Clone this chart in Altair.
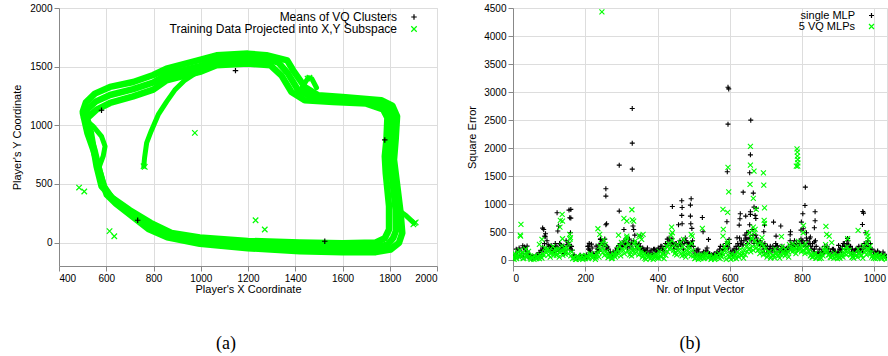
import altair as alt
import pandas as pd

GREEN = "#00ff00"
BLACK = "#000000"
PLUS = "M-1,0L1,0M0,-1L0,1"
CROSS = "M-1,-1L1,1M-1,1L1,-1"

# ---------------- Panel (a): player trajectory ----------------
outer_x = [501, 520, 545, 566, 585, 602, 641, 709, 778, 858, 996, 1199, 1419, 1600, 1741, 1803,
           1839, 1853, 1846, 1832, 1818, 1825, 1831, 1811, 1764, 1600, 1497, 1440, 1391, 1366,
           1278, 1199, 1067, 996, 855, 799, 714, 616, 552, 514, 501]
outer_y = [1105, 935, 793, 651, 509, 409, 332, 224, 116, 45, -11, -48, -74, -82, -82, -60,
           -3, 82, 253, 480, 707, 878, 1077, 1168, 1213, 1242, 1256, 1327, 1469, 1554,
           1597, 1611, 1597, 1557, 1483, 1429, 1369, 1327, 1270, 1196, 1119]
middle_x = [508, 527, 550, 570, 590, 620, 670, 740, 820, 880, 996, 1199, 1419, 1600, 1741, 1792,
            1815, 1826, 1825, 1812, 1800, 1805, 1810, 1792, 1735, 1600, 1470, 1412, 1368, 1330,
            1278, 1199, 1067, 996, 855, 799, 714, 616, 555, 522, 508]
middle_y = [1090, 935, 790, 620, 480, 390, 300, 200, 110, 60, 15, -18, -38, -45, -42, -15,
            40, 100, 280, 520, 720, 878, 1070, 1150, 1200, 1222, 1240, 1300, 1445, 1533,
            1565, 1570, 1555, 1505, 1433, 1365, 1308, 1258, 1202, 1140, 1090]
inner_x = [517, 535, 559, 580, 627, 700, 788, 876, 996, 1199, 1419, 1600, 1741, 1779, 1797, 1797,
           1783, 1779, 1786, 1790, 1772, 1701, 1560, 1440, 1384, 1342, 1295, 1199, 1067, 996,
           855, 799, 714, 616, 559, 528, 517]
inner_y = [1077, 935, 651, 480, 378, 276, 168, 82, 43, 14, 0, -6, 0, 37, 111, 310,
           594, 736, 878, 1063, 1134, 1185, 1199, 1213, 1284, 1423, 1511, 1526, 1511, 1455,
           1384, 1304, 1247, 1190, 1134, 1077, 1077]
detour_x = [503, 545, 580, 595, 587, 566]
detour_y = [1063, 990, 906, 821, 736, 622]
branch_x = [759, 762, 771, 790, 820, 855, 890, 930, 975, 1040, 1110, 1199]
branch_y = [651, 720, 850, 950, 1090, 1200, 1300, 1380, 1440, 1500, 1545, 1585]
spur_top_x = [1430, 1455, 1470, 1490]
spur_top_y = [1330, 1405, 1398, 1320]
spur_right_x = [1835, 1870, 1902]
spur_right_y = [280, 228, 168]

train_pts_x = [485, 507, 614, 634, 975, 1232, 1271, 758, 763, 1905, 1900, 1910, 1460, 1452]
train_pts_y = [469, 435, 97, 54, 935, 190, 111, 651, 645, 165, 155, 172, 1405, 1398]
means_x = [580, 1147, 1779, 1525, 733]
means_y = [1128, 1466, 875, 11, 190]

LBL_MEANS = "Means of VQ Clusters"
LBL_TRAIN = "Training Data Projected into  X,Y Subspace"


def path_df(name, xs, ys):
    return pd.DataFrame({"path": name, "seq": list(range(len(xs))), "x": xs, "y": ys})


laps = pd.concat([path_df("outer", outer_x, outer_y), path_df("middle", middle_x, middle_y),
                  path_df("inner", inner_x, inner_y)])
thin = pd.concat([path_df("detour", detour_x, detour_y), path_df("branch", branch_x, branch_y),
                  path_df("spur1", spur_top_x, spur_top_y), path_df("spur2", spur_right_x, spur_right_y)])
pts_a = pd.concat([
    pd.DataFrame({"x": train_pts_x, "y": train_pts_y, "series": LBL_TRAIN}),
    pd.DataFrame({"x": means_x, "y": means_y, "series": LBL_MEANS}),
])

xa = alt.X("x:Q", scale=alt.Scale(domain=[400, 2000], nice=False),
           axis=alt.Axis(values=list(range(400, 2001, 200)), format="d",
                         title="Player's X Coordinate", titleFontWeight="normal",
                         titleY=23, titleBaseline="middle"))
ya = alt.Y("y:Q", scale=alt.Scale(domain=[-200, 2000], nice=False),
           axis=alt.Axis(values=[0, 500, 1000, 1500, 2000], format="d",
                         title="Player's Y Coordinate", titleFontWeight="normal",
                         titleX=-42, titleBaseline="middle"))

leg_a = alt.Legend(title=None, orient="none", legendX=349, legendY=3,
                   labelAlign="right", labelOffset={"expr": "-23"}, labelFontSize=12,
                   labelLimit=500, rowPadding=-2, padding=0,
                   symbolStrokeWidth=1.2, symbolSize=30)

lap_layer = alt.Chart(laps).mark_line(color=GREEN, strokeWidth=6.5, strokeCap="round",
                                      strokeJoin="round").encode(
    x=xa, y=ya, detail="path:N", order="seq:Q")
thin_layer = alt.Chart(thin).mark_line(color=GREEN, strokeWidth=5, strokeCap="round",
                                       strokeJoin="round").encode(
    x=xa, y=ya, detail="path:N", order="seq:Q")
pts_layer_a = alt.Chart(pts_a).mark_point(filled=False, size=30, strokeWidth=1.2, opacity=1).encode(
    x=xa, y=ya,
    color=alt.Color("series:N", scale=alt.Scale(domain=[LBL_MEANS, LBL_TRAIN], range=[BLACK, GREEN]),
                    legend=leg_a),
    shape=alt.Shape("series:N", scale=alt.Scale(domain=[LBL_MEANS, LBL_TRAIN], range=[PLUS, CROSS]),
                    legend=leg_a),
)

panel_a = alt.layer(lap_layer, thin_layer, pts_layer_a).properties(
    width=378, height=258,
    title=alt.TitleParams("(a)", orient="bottom", font="Liberation Serif", fontSize=18,
                          fontWeight="normal", dx=-22, offset=41, anchor="middle"),
)

# ---------------- Panel (b): square error ----------------
green_base = [60, 120, 30, 90, 180, 140, 40, 200, 110, 70,
              20, 50, 80, 30, 60, 100, 40, 90, 150, 200,
              180, 120, 250, 160, 90, 200, 140, 260, 170, 110,
              220, 300, 80, 30, 50, 20, 70, 40, 90, 60,
              30, 80, 50, 120, 40, 90, 60, 150, 250, 300,
              200, 280, 120, 60, 100, 40, 80, 140, 200, 260,
              320, 180, 250, 400, 280, 150, 220, 300, 180, 260,
              200, 120, 80, 40, 100, 60, 30, 80, 50, 110,
              90, 160, 60, 120, 200, 250, 300, 220, 350, 180,
              150, 280, 200, 120, 240, 100, 180, 260, 140, 300,
              80, 40, 100, 60, 30, 90, 50, 120, 40, 70,
              30, 60, 40, 90, 120, 80, 150, 250, 200, 100,
              60, 120, 40, 90, 150, 60, 200, 120, 180, 250,
              300, 220, 400, 180, 350, 280, 200, 320, 160, 260,
              120, 80, 150, 60, 100, 200, 140, 80, 180, 250,
              120, 200, 150, 280, 220, 300, 180, 250, 340, 200,
              260, 180, 300, 220, 150, 100, 60, 120, 40, 90,
              60, 120, 200, 280, 160, 100, 50, 80, 130, 60,
              90, 40, 120, 200, 160, 240, 180, 100, 60, 130,
              100, 200, 140, 90, 260, 180, 300, 200, 120, 80,
              60, 110, 40, 90, 30, 70, 50]
green_base2 = [20, 80, 150, 50, 100, 30, 120, 60, 160, 40,
               50, 20, 40, 70, 30, 60, 120, 220, 180, 100,
               60, 150, 90, 200, 120, 60, 180, 90, 220, 150,
               120, 380, 150, 60, 20, 40, 30, 60, 20, 40,
               70, 30, 100, 60, 80, 20, 110, 60, 180, 140,
               90, 160, 50, 90, 30, 120, 60, 90, 150, 80,
               200, 120, 350, 160, 100, 80, 180, 120, 240, 100,
               150, 60, 120, 20, 60, 90, 50, 20, 80, 40,
               40, 80, 120, 30, 90, 150, 200, 450, 260, 120,
               100, 180, 320, 80, 150, 60, 120, 200, 80, 180,
               30, 80, 20, 90, 60, 30, 100, 60, 90, 20,
               60, 20, 80, 50, 30, 60, 100, 180, 300, 60,
               20, 60, 100, 30, 80, 120, 90, 40, 100, 160,
               200, 150, 250, 500, 220, 180, 120, 280, 100, 200,
               60, 150, 40, 90, 50, 120, 80, 40, 100, 160,
               80, 120, 60, 180, 150, 220, 120, 180, 240, 150,
               180, 120, 220, 160, 80, 60, 120, 40, 80, 30,
               40, 80, 150, 200, 100, 60, 90, 40, 70, 30,
               50, 80, 60, 120, 100, 180, 110, 60, 40, 80,
               60, 120, 90, 40, 150, 100, 200, 140, 60, 40,
               30, 70, 90, 50, 80, 40, 20]
black_base = [40, 100, 150, 220, 80, 260, 240, 120, 60, 90,
              30, 70, 50, 100, 140, 180, 240, 300, 200, 280,
              220, 260, 180, 300, 240, 160, 280, 200, 120, 350,
              280, 200, 250, 60, 40, 30, 60, 90, 50, 80,
              60, 250, 180, 290, 120, 60, 150, 200, 380, 350,
              300, 180, 240, 100, 60, 150, 120, 220, 260, 300,
              250, 350, 300, 220, 380, 320, 200, 450, 300, 280,
              250, 180, 200, 150, 220, 100, 180, 120, 200, 150,
              220, 180, 250, 200, 300, 380, 400, 260, 320, 200,
              300, 250, 350, 280, 200, 400, 320, 300, 250, 350,
              150, 100, 200, 80, 60, 150, 120, 220, 100, 80,
              60, 120, 80, 150, 200, 100, 250, 200, 300, 220,
              150, 100, 200, 250, 300, 400, 350, 280, 450, 380,
              500, 400, 550, 300, 450, 350, 300, 280, 250, 300,
              200, 150, 250, 180, 220, 300, 260, 150, 200, 180,
              150, 200, 250, 350, 200, 300, 250, 200, 300, 380,
              350, 300, 400, 250, 300, 200, 150, 350, 100, 120,
              80, 150, 250, 200, 150, 120, 100, 200, 150, 100,
              150, 200, 250, 300, 200, 350, 220, 150, 100, 180,
              200, 250, 180, 150, 300, 250, 350, 200, 150, 100,
              150, 100, 80, 120, 60, 100, 80]
black_base2 = [80, 200, 60, 180, 120, 60, 200, 160, 100, 50,
               60, 40, 90, 60, 100, 150, 200, 420, 350, 250,
               180, 220, 150, 250, 200, 300, 200, 250, 180, 280,
               320, 250, 180, 100, 60, 40, 80, 50, 60, 40,
               100, 200, 150, 220, 90, 120, 200, 160, 300, 260,
               380, 250, 200, 150, 80, 100, 180, 150, 200, 250,
               300, 280, 400, 320, 250, 300, 350, 280, 220, 300,
               200, 220, 150, 180, 120, 150, 100, 200, 120, 180,
               180, 250, 200, 150, 250, 300, 350, 300, 250, 300,
               250, 300, 280, 350, 300, 350, 250, 280, 300, 250,
               120, 180, 150, 100, 120, 100, 180, 150, 120, 100,
               100, 80, 150, 120, 250, 180, 200, 300, 250, 300,
               120, 180, 150, 200, 250, 300, 280, 350, 400, 300,
               400, 350, 450, 350, 400, 300, 350, 300, 200, 250,
               250, 200, 180, 250, 150, 250, 200, 180, 250, 220,
               200, 150, 200, 280, 250, 350, 300, 250, 350, 300,
               300, 250, 350, 300, 250, 300, 200, 250, 150, 200,
               150, 120, 200, 250, 200, 150, 200, 150, 100, 150,
               200, 150, 300, 250, 300, 280, 250, 200, 150, 200,
               150, 200, 250, 200, 250, 300, 250, 300, 200, 150,
               100, 150, 120, 80, 150, 100, 60]

black_peaks_x = [30, 39, 82, 85, 88, 90, 103, 122, 124, 126, 155, 160, 157, 160, 159, 210, 211, 230,
                 238, 242, 257, 257, 259, 257, 294, 294, 307, 330, 330, 330, 332, 334, 352, 441, 440,
                 467, 468, 467, 468, 458, 493, 491, 491, 492, 495, 524, 526, 541, 595, 597, 595, 593,
                 592, 598, 637, 620, 626, 629, 628, 644, 647, 658, 657, 655, 657, 657, 655, 665, 667,
                 673, 670, 672, 694, 696, 696, 721, 728, 741, 767, 768, 774, 797, 798, 802, 803, 809,
                 808, 812, 836, 836, 834, 834, 821, 823, 901, 926, 968, 970, 967, 976, 988, 1009]
black_peaks_y = [225, 255, 576, 552, 433, 475, 255, 849, 523, 612, 897, 909, 760, 754, 493, 255, 303,
                 255, 273, 374, 1277, 1146, 653, 635, 1698, 879, 552, 2708, 2090, 1627, 612, 552, 433,
                 962, 386, 1063, 944, 802, 653, 635, 1099, 986, 790, 653, 570, 766, 511, 374, 3088,
                 3058, 2429, 1580, 689, 374, 1217, 404, 629, 831, 742, 790, 493, 2500, 1882, 1562, 820,
                 867, 635, 1200, 950, 926, 802, 748, 511, 629, 137, 683, 433, 612, 457, 511, 255, 540,
                 683, 831, 564, 1306, 980, 493, 867, 707, 582, 327, 386, 416, 267, 392, 873, 843, 641,
                 493, 166, 166]
green_peaks_x = [246, 22, 20, 21, 73, 80, 130, 136, 137, 131, 137, 157, 159, 235, 240, 251, 292, 307,
                 315, 315, 329, 330, 334, 338, 349, 352, 360, 356, 439, 441, 472, 493, 496, 524, 581,
                 582, 581, 594, 595, 597, 594, 590, 657, 657, 656, 665, 667, 654, 673, 665, 670, 661,
                 693, 694, 696, 695, 696, 689, 743, 786, 787, 787, 788, 788, 788, 784, 804, 803, 866,
                 868, 875, 882, 926, 955, 979, 982, 983, 988]
green_peaks_y = [4430, 641, 451, 433, 285, 374, 594, 819, 701, 713, 386, 463, 404, 564, 463, 362, 451,
                 748, 701, 433, 903, 724, 701, 344, 445, 422, 463, 374, 594, 493, 374, 463, 433, 570,
                 909, 552, 433, 855, 1657, 1223, 333, 18, 2031, 1698, 1354, 1105, 1591, 493, 909, 594,
                 552, 386, 1562, 1342, 938, 713, 659, 404, 422, 1989, 1930, 1859, 1799, 1740, 1680,
                 1680, 624, 493, 606, 463, 433, 315, 386, 535, 493, 433, 374, 255]

LBL_SINGLE = "single MLP"
LBL_VQ = "5 VQ MLPs"

black_df = pd.concat([
    pd.DataFrame({"x": [2 + 5 * i for i in range(len(black_base))], "y": black_base}),
    pd.DataFrame({"x": [4 + 5 * i for i in range(len(black_base2))], "y": black_base2}),
    pd.DataFrame({"x": black_peaks_x, "y": black_peaks_y}),
])
black_df["series"] = LBL_SINGLE
green_df = pd.concat([
    pd.DataFrame({"x": [5 * i for i in range(len(green_base))], "y": green_base}),
    pd.DataFrame({"x": [3 + 5 * i for i in range(len(green_base2))], "y": green_base2}),
    pd.DataFrame({"x": green_peaks_x, "y": green_peaks_y}),
])
green_df["series"] = LBL_VQ
pts_b = pd.concat([black_df, green_df], ignore_index=True)

leg_b = alt.Legend(title=None, orient="none", legendX=353, legendY=2,
                   labelAlign="right", labelOffset={"expr": "-22"}, labelFontSize=11,
                   labelLimit=300, rowPadding=-3, padding=0,
                   symbolStrokeWidth=1.2, symbolSize=25)
panel_b = alt.Chart(pts_b).mark_point(filled=False, size=25, strokeWidth=1.1, opacity=1,
                                      clip=True).encode(
    x=alt.X("x:Q", scale=alt.Scale(domain=[0, 1035], nice=False),
            axis=alt.Axis(values=[0, 200, 400, 600, 800, 1000], format="d",
                          title="Nr. of Input Vector", titleFontWeight="normal",
                          titleY=23, titleBaseline="middle")),
    y=alt.Y("y:Q", scale=alt.Scale(domain=[-100, 4500], nice=False),
            axis=alt.Axis(values=list(range(0, 4501, 500)), format="d",
                          title="Square Error", titleFontWeight="normal",
                          titleX=-41, titleBaseline="middle")),
    color=alt.Color("series:N", scale=alt.Scale(domain=[LBL_SINGLE, LBL_VQ], range=[BLACK, GREEN]),
                    legend=leg_b),
    shape=alt.Shape("series:N", scale=alt.Scale(domain=[LBL_SINGLE, LBL_VQ], range=[PLUS, CROSS]),
                    legend=leg_b),
).properties(
    width=374, height=258,
    title=alt.TitleParams("(b)", orient="bottom", font="Liberation Serif", fontSize=18,
                          fontWeight="normal", dx=-10, offset=41, anchor="middle"),
)

# Fixed canvas: the padding alone spans 888 x 356, the panels start at (59, 8)
chart = alt.hconcat(panel_a, panel_b, spacing=76, bounds="flush").resolve_scale(
    color="independent", shape="independent", x="independent", y="independent"
).properties(
    autosize=alt.AutoSizeParams(type="none"),
    padding={"left": 59, "top": 8, "right": 829, "bottom": 348},
).configure_view(
    stroke="#111111", strokeWidth=1
).configure_axis(
    grid=False, domain=False, tickColor="#111111", tickSize=4, labelPadding=0,
    labelFont="Liberation Sans", labelFontSize=8.5, labelColor="#222222",
    titleFont="Liberation Sans", titleFontSize=12, titleFontWeight="normal", titleColor="#111111",
).configure_legend(
    labelFont="Liberation Sans", labelColor="#111111"
).configure(background="white")

chart.save("out.html", embed_options={"renderer": "svg", "actions": False})
